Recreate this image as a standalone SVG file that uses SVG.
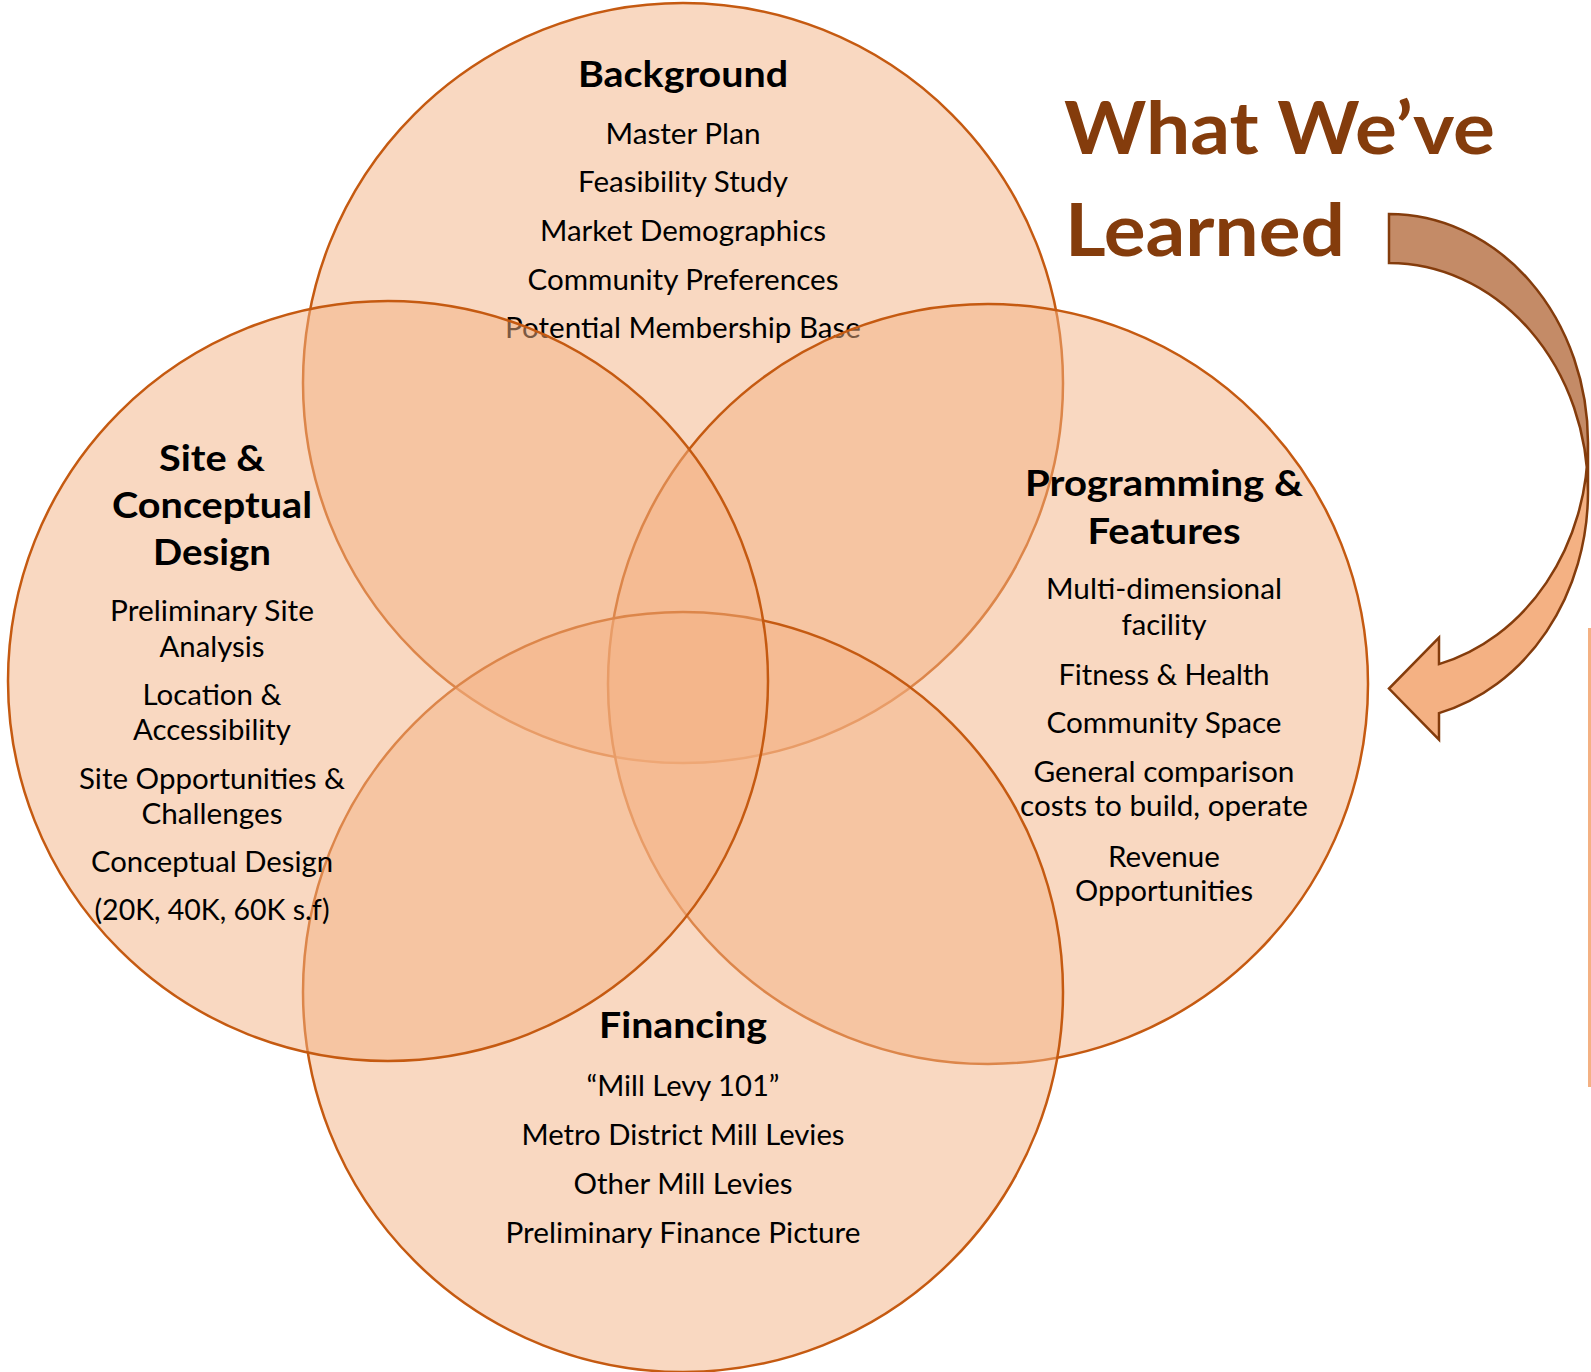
<svg xmlns="http://www.w3.org/2000/svg" width="1591" height="1372" viewBox="0 0 1591 1372">
<style>
.venn{fill:#F4B183;fill-opacity:0.5;stroke:#C55A11;stroke-width:2.5}
text{font-family:Lato,"Open Sans","Liberation Sans",sans-serif;fill:#000;text-anchor:middle}
.h{font-size:36px;font-weight:700}
.b{font-size:28.5px}
.title{font-size:72px;font-weight:700;fill:#843C0C;text-anchor:start}
.arrowLight{fill:#F4B183;stroke:none}
.arrowDark{fill:#C48B67;stroke:none}
.arrowLine{fill:none;stroke:#843C0C;stroke-width:2.5;stroke-linejoin:miter}
</style>
<rect width="1591" height="1372" fill="#FFFFFF"/>
<g id="background">
<circle class="venn" cx="683" cy="383" r="380"/>
<text class="h" x="683" y="86.5" textLength="210" lengthAdjust="spacingAndGlyphs">Background</text>
<text class="b" x="683" y="143.5" textLength="155" lengthAdjust="spacingAndGlyphs">Master Plan</text>
<text class="b" x="683" y="191.5" textLength="210" lengthAdjust="spacingAndGlyphs">Feasibility Study</text>
<text class="b" x="683" y="240.5" textLength="286" lengthAdjust="spacingAndGlyphs">Market Demographics</text>
<text class="b" x="683" y="289.5" textLength="311" lengthAdjust="spacingAndGlyphs">Community Preferences</text>
<text class="b" x="683" y="337.5" textLength="356" lengthAdjust="spacingAndGlyphs">Potential Membership Base</text>
</g>
<g id="programming">
<circle class="venn" cx="988" cy="684" r="380"/>
<text class="h" x="1164" y="496" textLength="278" lengthAdjust="spacingAndGlyphs">Programming &amp;</text>
<text class="h" x="1164" y="543.5" textLength="153" lengthAdjust="spacingAndGlyphs">Features</text>
<text class="b" x="1164" y="599" textLength="236" lengthAdjust="spacingAndGlyphs">Multi-dimensional</text>
<text class="b" x="1164" y="634.5" textLength="85" lengthAdjust="spacingAndGlyphs">facility</text>
<text class="b" x="1164" y="684.5" textLength="211" lengthAdjust="spacingAndGlyphs">Fitness &amp; Health</text>
<text class="b" x="1164" y="732.5" textLength="235" lengthAdjust="spacingAndGlyphs">Community Space</text>
<text class="b" x="1164" y="781.5" textLength="261" lengthAdjust="spacingAndGlyphs">General comparison</text>
<text class="b" x="1164" y="815.5" textLength="288" lengthAdjust="spacingAndGlyphs">costs to build, operate</text>
<text class="b" x="1164" y="866.5" textLength="112" lengthAdjust="spacingAndGlyphs">Revenue</text>
<text class="b" x="1164" y="901" textLength="178" lengthAdjust="spacingAndGlyphs">Opportunities</text>
</g>
<g id="financing">
<circle class="venn" cx="683" cy="992" r="380"/>
<text class="h" x="683" y="1037.5" textLength="168" lengthAdjust="spacingAndGlyphs">Financing</text>
<text class="b" x="683" y="1095.5" textLength="193" lengthAdjust="spacingAndGlyphs">“Mill Levy 101”</text>
<text class="b" x="683" y="1145" textLength="323" lengthAdjust="spacingAndGlyphs">Metro District Mill Levies</text>
<text class="b" x="683" y="1193.5" textLength="219" lengthAdjust="spacingAndGlyphs">Other Mill Levies</text>
<text class="b" x="683" y="1243" textLength="355" lengthAdjust="spacingAndGlyphs">Preliminary Finance Picture</text>
</g>
<g id="site">
<circle class="venn" cx="388" cy="681" r="380"/>
<text class="h" x="212" y="470.5" textLength="106" lengthAdjust="spacingAndGlyphs">Site &amp;</text>
<text class="h" x="212" y="517.5" textLength="200" lengthAdjust="spacingAndGlyphs">Conceptual</text>
<text class="h" x="212" y="564.5" textLength="118" lengthAdjust="spacingAndGlyphs">Design</text>
<text class="b" x="212" y="620.5" textLength="204" lengthAdjust="spacingAndGlyphs">Preliminary Site</text>
<text class="b" x="212" y="656.5" textLength="105" lengthAdjust="spacingAndGlyphs">Analysis</text>
<text class="b" x="212" y="704.5" textLength="139" lengthAdjust="spacingAndGlyphs">Location &amp;</text>
<text class="b" x="212" y="739.5" textLength="158" lengthAdjust="spacingAndGlyphs">Accessibility</text>
<text class="b" x="212" y="788.5" textLength="266" lengthAdjust="spacingAndGlyphs">Site Opportunities &amp;</text>
<text class="b" x="212" y="823.5" textLength="141" lengthAdjust="spacingAndGlyphs">Challenges</text>
<text class="b" x="212" y="871.5" textLength="242" lengthAdjust="spacingAndGlyphs">Conceptual Design</text>
<text class="b" x="212" y="919.5" textLength="235" lengthAdjust="spacingAndGlyphs">(20K, 40K, 60K s.f)</text>
</g>
<g id="title">
<text class="title" x="1064" y="153.5" textLength="431" lengthAdjust="spacingAndGlyphs">What We’ve</text>
<text class="title" x="1065" y="255.5" textLength="280" lengthAdjust="spacingAndGlyphs">Learned</text>
</g>
<g id="arrow">
<path class="arrowLight" d="M1588,442.7 L1588,491.7 A199,228.7 0 0 1 1439,713.1 L1439,739.6 L1389,688.6 L1439,637.6 L1439,664.1 A199,228.7 0 0 0 1588,442.7 Z"/>
<path class="arrowDark" d="M1588,491.7 A199,228.7 0 0 0 1389,263 L1389,214 A199,228.7 0 0 1 1588,442.7 Z"/>
<path class="arrowLine" d="M1588,491.7 A199,228.7 0 0 0 1389,263 L1389,214 A199,228.7 0 0 1 1588,442.7 L1588,491.7 A199,228.7 0 0 1 1439,713.1 L1439,739.6 L1389,688.6 L1439,637.6 L1439,664.1 A199,228.7 0 0 0 1588,442.7"/>
</g>
<rect id="edge" x="1588" y="628" width="3" height="459" fill="#F4B183"/>
</svg>
